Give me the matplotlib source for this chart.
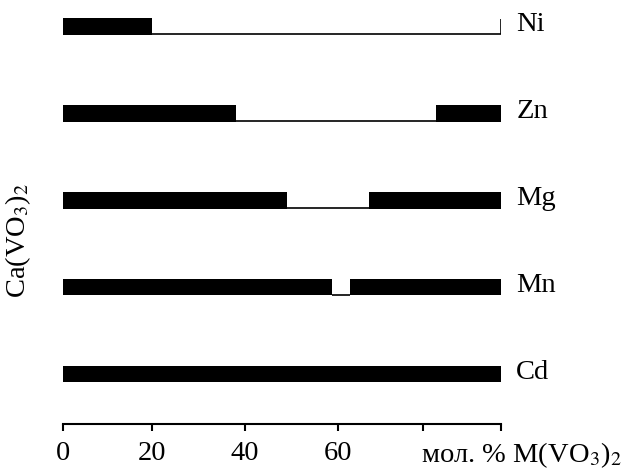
import matplotlib
matplotlib.use("Agg")
import matplotlib.pyplot as plt

plt.rcParams['font.family'] = ['Liberation Serif', 'DejaVu Serif']
plt.rcParams['mathtext.fontset'] = 'stix'

# rows from bottom to top
metals = ['Cd', 'Mn', 'Mg', 'Zn', 'Ni']
# end of the left solid-solution region (mol. % M(VO3)2)
left_end = [100, 61.4, 51.1, 39.5, 20.3]
# start of the right solid-solution region (100 = none)
right_start = [100, 65.5, 69.9, 85.2, 100]

tick_pos = [0, 20.3, 41.6, 62.8, 82.2, 100]
tick_labels = ['0', '20', '40', '60', '', '']

fs = 20.5
bar_h = 0.195

fig = plt.figure(figsize=(6.24, 4.73), dpi=100)
ax = fig.add_axes([63 / 624, 49 / 473, 438 / 624, 424 / 473])

for i, m in enumerate(metals):
    y0 = i - bar_h / 2
    # solid regions
    ax.broken_barh([(0, left_end[i])], (y0, bar_h), facecolors='black')
    if right_start[i] < 100:
        ax.broken_barh([(right_start[i], 100 - right_start[i])], (y0, bar_h),
                       facecolors='black')
    # two-phase gap shown as a thin line at the bottom of the bar
    if left_end[i] < 100:
        ax.hlines(y0 + 0.01, left_end[i], right_start[i], color='black', lw=1.2)
        if right_start[i] >= 100:
            ax.vlines(100, y0 + 0.01, y0 + bar_h - 0.02, color='black', lw=1.2)
    ax.text(103.5, i + 0.02, m, fontsize=fs, va='center', ha='left')

ax.set_xlim(0, 100)
ax.set_ylim(-0.575, 4.30)
ax.set_xticks(tick_pos)
ax.set_xticklabels(tick_labels, fontsize=fs)
ax.set_yticks([])
for s in ['top', 'left', 'right']:
    ax.spines[s].set_visible(False)
ax.spines['bottom'].set_linewidth(1.5)
ax.tick_params(axis='x', direction='out', length=5, width=1.5, pad=7)

fig.text(421 / 624, (473 - 462) / 473, 'мол. % M(VO$_3$)$_2$', fontsize=fs,
         ha='left', va='baseline')
fig.text(18 / 624, (473 - 240) / 473, 'Ca(VO$_3$)$_2$', fontsize=fs,
         rotation=90, ha='center', va='center')

fig.savefig('out.png', dpi=100)
